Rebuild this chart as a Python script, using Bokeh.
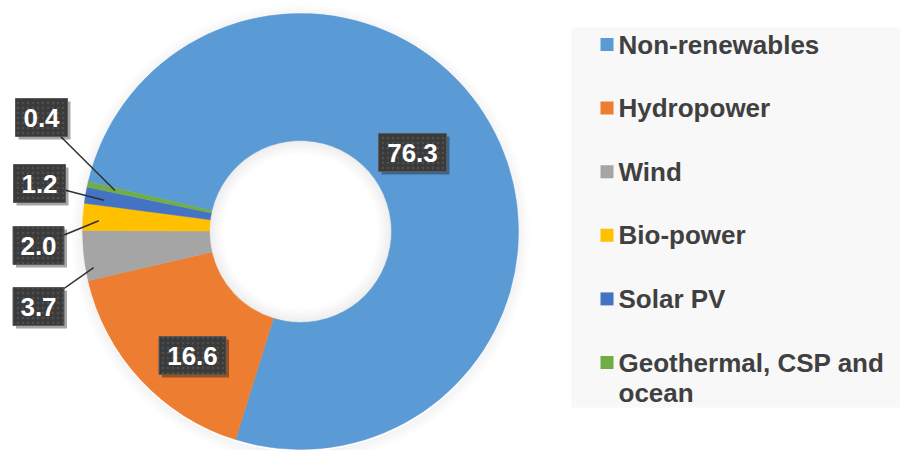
import numpy as np
from bokeh.plotting import figure
from bokeh.models import Range1d, ColumnDataSource
from bokeh.embed import file_html
from bokeh.resources import INLINE
from bokeh.core.properties import value

# ---- data ----
categories = ["Non-renewables", "Hydropower", "Wind", "Bio-power", "Solar PV",
              "Geothermal, CSP and\nocean"]
shares = [76.3, 16.6, 3.7, 2.0, 1.2, 0.4]
colors = ["#5b9bd5", "#ed7d31", "#a5a5a5", "#ffc000", "#4472c4", "#70ad47"]

# ---- layout (image pixel coordinates, y measured downward) ----
W, H = 900, 450
IMG_H = 450
def Y(img_y):
    return IMG_H - img_y

cx, cy_img = 300, 231
r_out, r_in = 218, 91
first_angle = 283.2          # clockwise from 12 o'clock, degrees

p = figure(width=W, height=H, x_range=Range1d(0, W), y_range=Range1d(IMG_H - H, IMG_H),
           output_backend="svg", toolbar_location=None, min_border=0)
p.axis.visible = False
p.grid.visible = False
p.outline_line_color = None
p.background_fill_color = "white"
p.border_fill_color = "white"

cy = Y(cy_img)

# legend panel
p.quad(left=[571], right=[900], top=[Y(27)], bottom=[Y(407)], fill_color="#f8f8f8", line_color=None)

# outer soft shadow
for k in range(10):
    p.annulus(x=[cx], y=[cy - 2], inner_radius=r_out + k * 1.2, outer_radius=r_out + (k + 1) * 1.2,
              fill_color="black", fill_alpha=0.05 * (1 - k / 10), line_color=None)

# wedges
vals = np.array(shares, dtype=float)
deg = vals / vals.sum() * 360.0
starts = first_angle + np.concatenate([[0], np.cumsum(deg)[:-1]])
ends = starts + deg
src = ColumnDataSource(dict(
    start=np.radians(90 - starts), end=np.radians(90 - ends), color=colors))
p.annular_wedge(x=cx, y=cy, inner_radius=r_in, outer_radius=r_out, start_angle="start",
                end_angle="end", direction="clock", fill_color="color", line_color="color",
                line_width=0.5, source=src)

# inner hole shadow
for k in range(12):
    p.annulus(x=[cx], y=[cy], inner_radius=r_in - (k + 1) * 1.2, outer_radius=r_in - k * 1.2,
              fill_color="black", fill_alpha=0.07 * (1 - k / 12), line_color=None)

mids = np.radians(starts + deg / 2)   # clockwise from top

# data labels
label_txt = ["%.1f" % v for v in shares]
# label box centres (image coords) – layout only
box_pos = [(412, 152), (192, 355), (38, 306), (38, 245), (39, 183), (41, 117)]
box_w = [68, 67, 51, 51, 52, 52]
box_h = 38
outside = [False, False, True, True, True, True]
leader_r = [0, 0, 210, 202, 199, 190]
leader_da = [0, 0, -3.5, -0.8, -0.6, 0]

# leader lines for outside labels
lx0, ly0, lx1, ly1 = [], [], [], []
for i, out in enumerate(outside):
    if out:
        r = leader_r[i]
        a = mids[i] + np.radians(leader_da[i])
        tx = cx + r * np.sin(a)
        ty = cy_img - r * np.cos(a)
        lx0.append(box_pos[i][0]); ly0.append(Y(box_pos[i][1]))
        lx1.append(tx); ly1.append(Y(ty))
p.segment(x0=lx0, y0=ly0, x1=lx1, y1=ly1, line_color="#303030", line_width=1.5)

bx = [b[0] for b in box_pos]
by = [Y(b[1]) for b in box_pos]
p.rect(x=[x + 3 for x in bx], y=[y - 3 for y in by], width=box_w, height=box_h,
       fill_color="black", fill_alpha=0.35, line_color=None)
p.rect(x=bx, y=by, width=box_w, height=box_h, fill_color="#3a3a3a", line_color="#5a5a5a",
       line_width=1, hatch_pattern="dot", hatch_color="#5c5c5c", hatch_scale=5, hatch_alpha=0.6)
p.text(x=bx, y=by, text=label_txt, text_color="white", text_font=value("Liberation Sans"),
       text_font_style="bold", text_font_size="26px", text_align="center", text_baseline="middle")

# legend
row0, row_step = 44, 63.6
sq = 13
leg_x = [606.5] * len(categories)
leg_y = [Y(row0 + i * row_step) for i in range(len(categories))]
p.rect(x=leg_x, y=leg_y, width=sq, height=sq, fill_color=colors, line_color=None)
p.text(x=[618] * len(categories), y=[Y(row0 + i * row_step) for i in range(len(categories))],
       text=categories, text_color="#404040", text_font=value("Liberation Sans"),
       text_font_style="bold", text_font_size="26px", text_baseline="top",
       text_line_height=1.0, y_offset=-15)

open("out.html", "w").write(file_html(p, INLINE))
